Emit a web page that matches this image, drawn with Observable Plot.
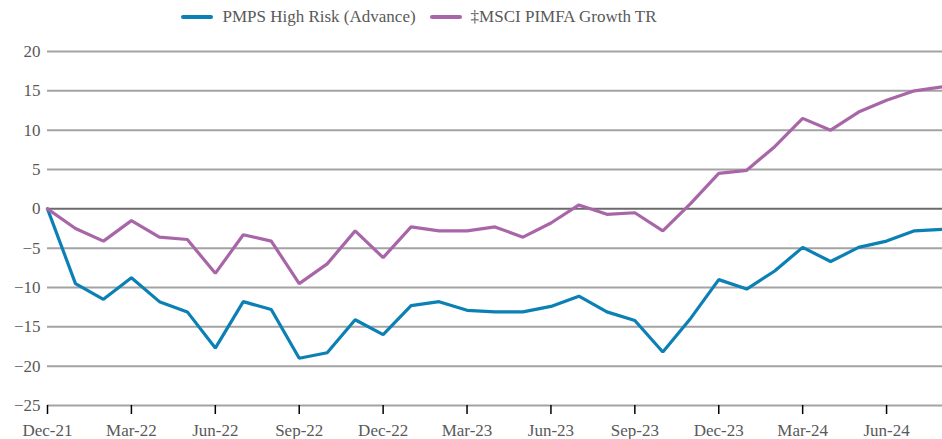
<!DOCTYPE html>
<html>
<head>
<meta charset="utf-8">
<script src="https://cdn.jsdelivr.net/npm/d3@7"></script>
<script src="https://cdn.jsdelivr.net/npm/@observablehq/plot@0.6"></script>
<style>
  html, body { margin: 0; padding: 0; background: #fff; }
  #wrap { position: relative; width: 942px; height: 439px; overflow: hidden; }
  #legend { position: absolute; top: 7px; left: 0; width: 942px; display: flex; justify-content: center; gap: 14px;
            font-family: "Liberation Serif", serif; font-size: 17px; color: #595959; box-sizing: border-box; transform: translateX(-52px); }
  .item { display: flex; align-items: center; gap: 9px; }
  .sw { width: 32px; height: 4px; border-radius: 2px; }
  #chart svg, #chart svg text { font-family: "Liberation Serif", serif !important; }
</style>
</head>
<body>
<div id="wrap">
  <div id="legend"></div>
  <div id="chart"></div>
</div>
<script>
const months = ["Dec-21","Jan-22","Feb-22","Mar-22","Apr-22","May-22","Jun-22","Jul-22","Aug-22","Sep-22","Oct-22","Nov-22",
  "Dec-22","Jan-23","Feb-23","Mar-23","Apr-23","May-23","Jun-23","Jul-23","Aug-23","Sep-23","Oct-23","Nov-23",
  "Dec-23","Jan-24","Feb-24","Mar-24","Apr-24","May-24","Jun-24","Jul-24","Aug-24"];
const tickLabels = ["Dec-21","Mar-22","Jun-22","Sep-22","Dec-22","Mar-23","Jun-23","Sep-23","Dec-23","Mar-24","Jun-24"];
const yTicks = [-25,-20,-15,-10,-5,0,5,10,15,20];
const seriesNames = ["PMPS High Risk (Advance)", "\u2021MSCI PIMFA Growth TR"];
const seriesColors = ["#0b80b5", "#a866a8"];
const pmps = [0,-9.5,-11.5,-8.75,-11.8,-13.1,-17.7,-11.8,-12.8,-19.0,-18.3,-14.1,-16.0,-12.3,-11.8,-12.9,-13.1,-13.1,-12.4,-11.1,-13.1,-14.2,-18.2,-13.9,-9.0,-10.2,-7.9,-4.9,-6.7,-4.9,-4.1,-2.8,-2.6];
const msci = [0,-2.5,-4.1,-1.5,-3.6,-3.9,-8.2,-3.3,-4.1,-9.5,-7.0,-2.8,-6.2,-2.3,-2.8,-2.8,-2.3,-3.6,-1.8,0.5,-0.7,-0.5,-2.8,0.7,4.5,4.9,7.9,11.5,10.0,12.3,13.8,15.0,15.5];

const data = [];
months.forEach((m, i) => {
  data.push({i, month: m, series: seriesNames[0], value: pmps[i]});
  data.push({i, month: m, series: seriesNames[1], value: msci[i]});
});
const tickIdx = tickLabels.map(l => months.indexOf(l));

const legend = document.getElementById("legend");
seriesNames.forEach((n, k) => {
  const it = document.createElement("div");
  it.className = "item";
  it.innerHTML = `<span class="sw" style="background:${seriesColors[k]}"></span><span>${n}</span>`;
  legend.appendChild(it);
});

const chart = Plot.plot({
  width: 942,
  height: 439,
  marginTop: 51,
  marginBottom: 34,
  marginLeft: 47,
  marginRight: 0,
  style: {fontFamily: "'Liberation Serif', serif", fontSize: "17px", color: "#595959", background: "#fff", overflow: "visible"},
  x: {type: "linear", domain: [0, months.length - 1]},
  y: {domain: [-25, 20]},
  color: {domain: seriesNames, range: seriesColors},
  marks: [
    Plot.ruleY(yTicks.filter(d => d !== 0), {stroke: "#a3a3a3", strokeWidth: 2}),
    Plot.ruleY([0], {stroke: "#6b6b6b", strokeWidth: 2}),
    Plot.axisY({ticks: yTicks, tickSize: 0, tickPadding: 7, label: null, fill: "#595959"}),
    Plot.axisX({ticks: tickIdx, tickSize: 9, tickPadding: 9, stroke: "#000", strokeWidth: 1.5, label: null,
      tickFormat: d => months[d], fill: "#595959"}),
    Plot.line(data, {x: "i", y: "value", z: "series", stroke: "series", strokeWidth: 3.2, strokeLinejoin: "miter"})
  ]
});
document.getElementById("chart").appendChild(chart);
</script>
</body>
</html>
